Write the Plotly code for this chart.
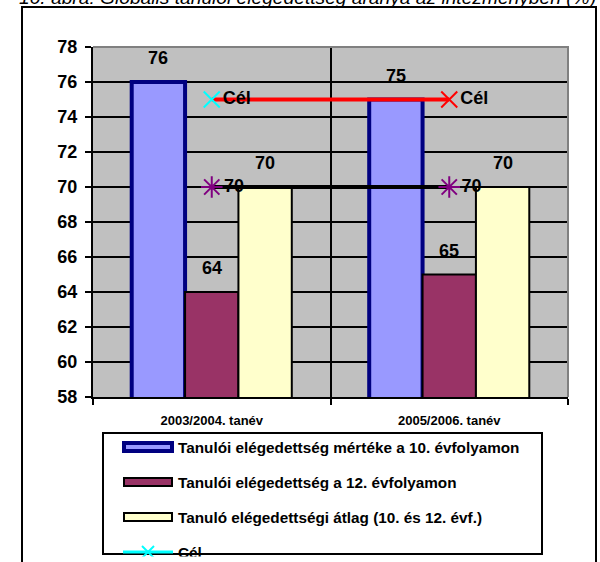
import plotly.graph_objects as go

# ---------------- data ----------------
categories = ["2003/2004. tanév", "2005/2006. tanév"]
names = [
    "Tanulói elégedettség mértéke a 10. évfolyamon",
    "Tanulói elégedettség a 12. évfolyamon",
    "Tanuló elégedettségi átlag (10. és 12. évf.)",
]
grade10 = [76, 75]
grade12 = [64, 65]
average = [70, 70]
target_name = "Cél"
target = [75, 75]
avg_line_name = "Átlag"
avg_line = [70, 70]
title_text = "10. ábra: Globális tanulói elégedettség aránya az intézményben (%)"

# ---------------- styling ----------------
FONT = "Liberation Sans, Arial, sans-serif"
W, H = 600, 562
L, R, T, B = 93, 568, 47, 397
PW, PH = R - L, B - T


def px(x):
    return (x - L) / PW


def py(y):
    return (B - y) / PH


fills = ["#9999FF", "#993366", "#FFFFCC"]
edges = ["#000080", "#000000", "#000000"]
edge_w = [4, 2, 2]
bargap = 0.326
bw = (1 - bargap) / 3

fig = go.Figure()
series = [grade10, grade12, average]
for i, vals in enumerate(series):
    fig.add_trace(go.Bar(
        x=categories, y=vals, name=names[i], showlegend=False,
        marker=dict(color=fills[i], line=dict(color=edges[i], width=edge_w[i])),
    ))

fig.add_trace(go.Scatter(
    x=categories, y=target, name=target_name, showlegend=False,
    mode="lines+markers+text", text=[target_name, target_name],
    textposition="middle right",
    textfont=dict(family=FONT, size=18, color="black", weight="bold"),
    line=dict(color="#FF0000", width=4),
    marker=dict(symbol="x-thin-open", size=16, color=["#00FFFF", "#FF0000"],
                line=dict(width=2)),
))
fig.add_trace(go.Scatter(
    x=categories, y=avg_line, name=avg_line_name, showlegend=False,
    mode="lines+markers+text", text=[str(v) for v in avg_line],
    textposition="middle right",
    textfont=dict(family=FONT, size=18, color="black", weight="bold"),
    line=dict(color="#000000", width=4),
    marker=dict(symbol="asterisk-open", size=18, color="#800080",
                line=dict(width=2)),
))

annotations = []
# data labels above bars
for i, vals in enumerate(series):
    off = (i - 1) * bw
    for j, v in enumerate(vals):
        annotations.append(dict(
            x=j + off, y=v, xref="x", yref="y", text=str(v), showarrow=False,
            yshift=24, font=dict(family=FONT, size=18, color="black", weight="bold"),
        ))

# title (cut at top)
annotations.append(dict(
    x=px(17), y=py(10), xref="paper", yref="paper", xanchor="left", yanchor="bottom",
    text=title_text, showarrow=False,
    font=dict(family=FONT, size=19.2, color="black", style="italic"),
))

shapes = []
# outer frame
shapes.append(dict(type="rect", xref="paper", yref="paper",
                   x0=px(22), x1=px(596), y0=py(7), y1=py(620),
                   line=dict(color="black", width=2)))
# plot area gray top/right border
shapes.append(dict(type="path", xref="paper", yref="paper",
                   path="M0,1 L1,1 L1,0", line=dict(color="#808080", width=2)))
# legend box
shapes.append(dict(type="rect", xref="paper", yref="paper",
                   x0=px(103), x1=px(542), y0=py(554), y1=py(433),
                   line=dict(color="black", width=2), fillcolor="white"))
rows = [447, 482, 517, 552]
for i in range(3):
    shapes.append(dict(type="rect", xref="paper", yref="paper",
                       x0=px(124), x1=px(172), y0=py(rows[i] + 4), y1=py(rows[i] - 4),
                       line=dict(color=edges[i], width=edge_w[i] if i == 0 else 2),
                       fillcolor=fills[i]))
    annotations.append(dict(
        x=px(176), y=py(rows[i]), xref="paper", yref="paper", xanchor="left",
        yanchor="middle", text=names[i], showarrow=False,
        font=dict(family=FONT, size=15.3, color="black", weight="bold"),
    ))
# 4th legend entry (target line)
shapes.append(dict(type="line", xref="paper", yref="paper",
                   x0=px(123), x1=px(173), y0=py(rows[3]), y1=py(rows[3]),
                   line=dict(color="#00FFFF", width=3)))
for dx in (-1, 1):
    shapes.append(dict(type="line", xref="paper", yref="paper",
                       x0=px(148 - 6), x1=px(148 + 6), y0=py(rows[3] - 6 * dx), y1=py(rows[3] + 6 * dx),
                       line=dict(color="#00FFFF", width=2)))
annotations.append(dict(
    x=px(176), y=py(rows[3]), xref="paper", yref="paper", xanchor="left",
    yanchor="middle", text=target_name, showarrow=False,
    font=dict(family=FONT, size=15.3, color="black", weight="bold"),
))
# clip below legend box
annotations.append(dict(
    x=px(104), y=py(555.5), xref="paper", yref="paper", xanchor="left", yanchor="top",
    text=" ", showarrow=False, width=437, height=12, bgcolor="white", borderpad=0,
))

fig.update_layout(
    width=W, height=H,
    margin=dict(l=L, r=W - R, t=T, b=H - B, pad=0),
    paper_bgcolor="white", plot_bgcolor="#C0C0C0",
    barmode="group", bargap=bargap, bargroupgap=0,
    showlegend=False,
    font=dict(family=FONT, color="black"),
    annotations=annotations, shapes=shapes,
)
fig.update_yaxes(
    range=[58, 78], dtick=2, tick0=58, showgrid=True, gridcolor="black", gridwidth=1.5,
    zeroline=False, showline=True, linecolor="black", linewidth=2,
    ticks="outside", ticklen=6, tickwidth=2, tickcolor="black",
    tickfont=dict(family=FONT, size=18, color="black", weight="bold"),
    ticklabelstandoff=4,
)
fig.update_xaxes(
    type="category", tickson="boundaries", showgrid=True, gridcolor="black", gridwidth=1.5,
    showline=True, linecolor="black", linewidth=2,
    ticks="outside", ticklen=6, tickwidth=2, tickcolor="black",
    tickfont=dict(family=FONT, size=13, color="black", weight="bold"),
    ticklabelstandoff=10,
)

fig.write_html(
    "out.html",
    config={"displayModeBar": False},
    post_script="document.body.style.margin='0';document.body.style.overflow='hidden';",
)
